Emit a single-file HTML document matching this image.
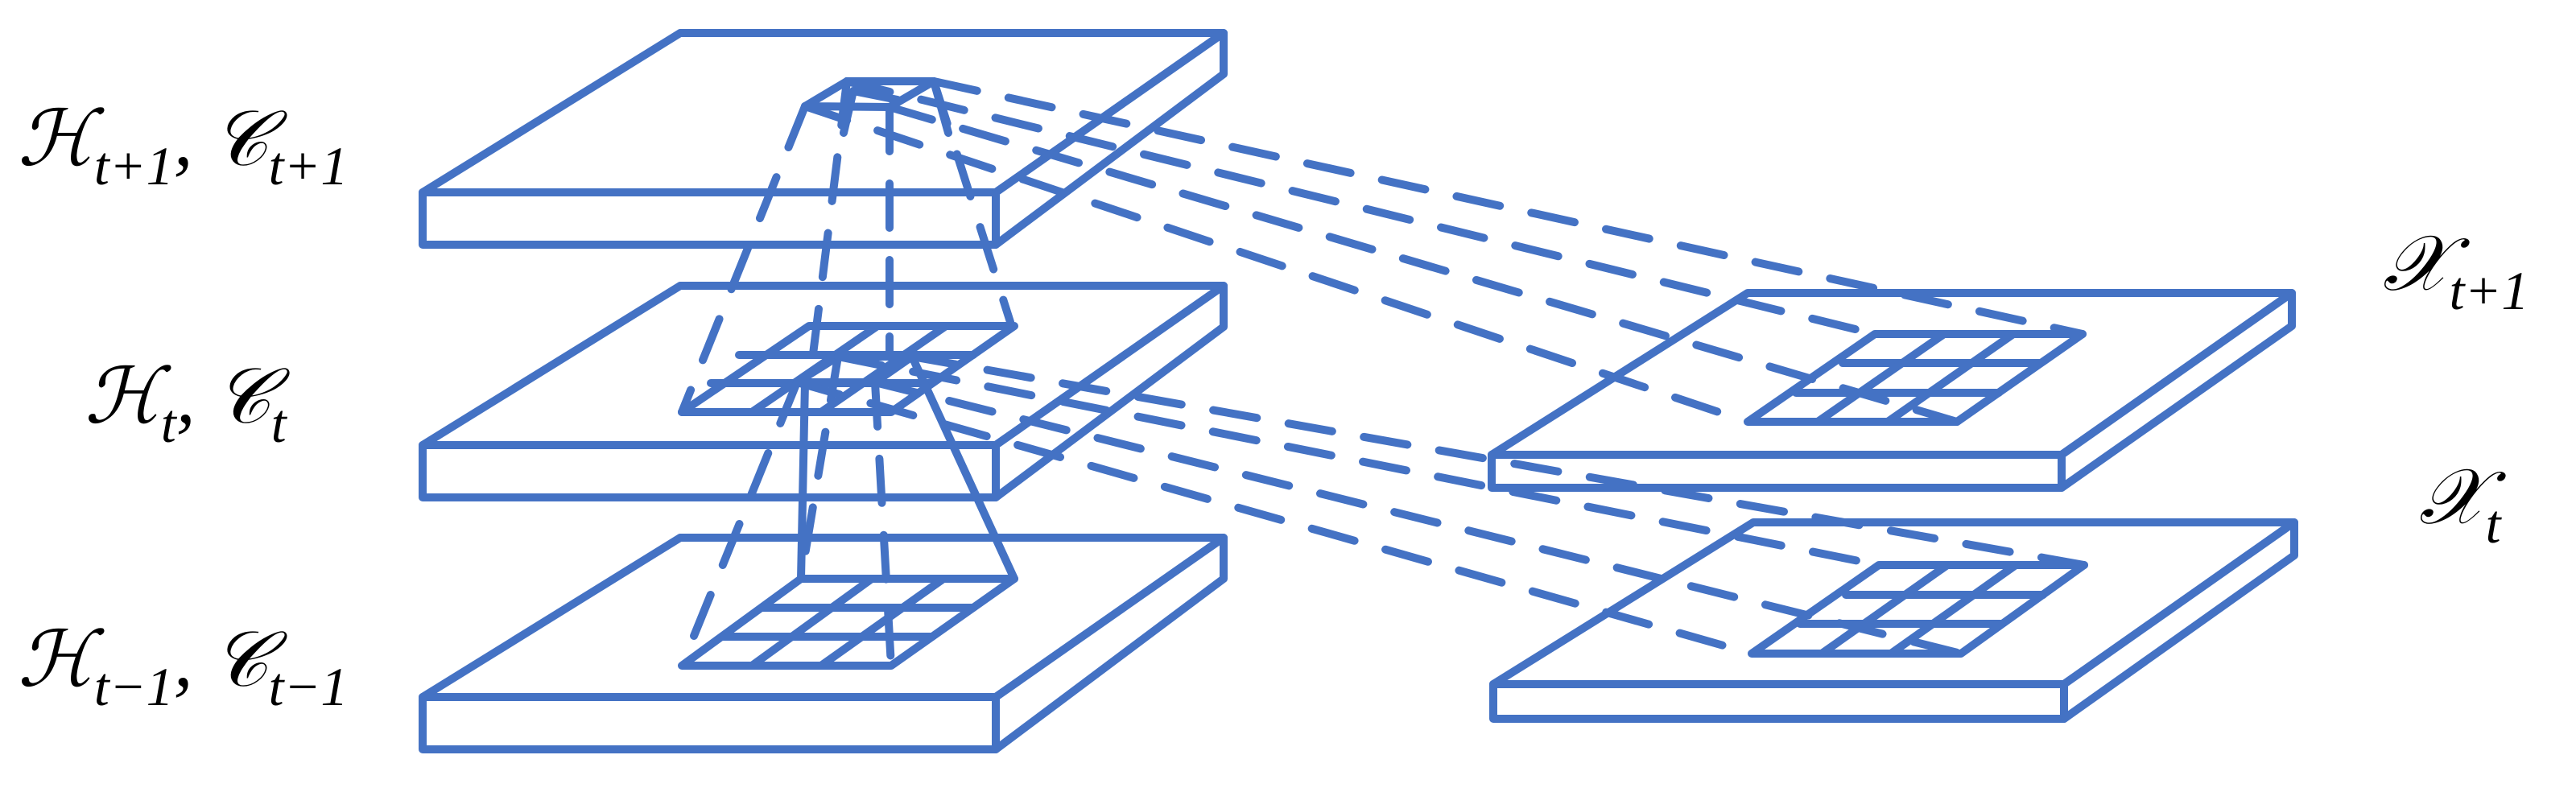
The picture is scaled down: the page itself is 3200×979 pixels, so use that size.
<!DOCTYPE html>
<html><head><style>
html,body{margin:0;padding:0;background:#fff;}
svg{display:block}
text{font-family:"Liberation Serif","DejaVu Serif",serif;font-style:italic;fill:#000}
</style></head><body>
<svg width="3200" height="979" viewBox="0 0 3200 979" xmlns="http://www.w3.org/2000/svg">
<g fill="none" stroke="#4472C4" stroke-width="10" stroke-linejoin="round" stroke-linecap="round">
<polygon points="845,41 1520,41 1237,239 525,239" fill="#fff"/>
<polygon points="525,239 1237,239 1237,304 525,304" fill="#fff"/>
<polygon points="1237,239 1520,41 1520,92 1237,304" fill="#fff"/>
<g transform="translate(0,314)">
<polygon points="845,41 1520,41 1237,239 525,239" fill="#fff"/>
<polygon points="525,239 1237,239 1237,304 525,304" fill="#fff"/>
<polygon points="1237,239 1520,41 1520,92 1237,304" fill="#fff"/>
</g>
<g transform="translate(0,627)">
<polygon points="845,41 1520,41 1237,239 525,239" fill="#fff"/>
<polygon points="525,239 1237,239 1237,304 525,304" fill="#fff"/>
<polygon points="1237,239 1520,41 1520,92 1237,304" fill="#fff"/>
</g>
<polygon points="2171,364 2847,364 2561,565 1853,565" fill="#fff"/>
<polygon points="1853,565 2561,565 2561,606 1853,606" fill="#fff"/>
<polygon points="2561,565 2847,364 2847,405 2561,606" fill="#fff"/>
<polygon points="2178,649 2850,649 2564,850 1855,850" fill="#fff"/>
<polygon points="1855,850 2564,850 2564,893 1855,893" fill="#fff"/>
<polygon points="2564,850 2850,649 2850,690 2564,893" fill="#fff"/>
<polygon points="1005,405 1260,405 1107,512 847,512"/>
<line x1="918" y1="441" x2="1209" y2="441"/><line x1="883" y1="476" x2="1158" y2="476"/>
<line x1="1090" y1="405" x2="934" y2="512"/><line x1="1175" y1="405" x2="1020" y2="512"/>
<polygon points="995,719 1260,719 1107,827 847,827"/>
<line x1="946" y1="755" x2="1209" y2="755"/><line x1="897" y1="791" x2="1158" y2="791"/>
<line x1="1083" y1="719" x2="934" y2="827"/><line x1="1172" y1="719" x2="1020" y2="827"/>
<polygon points="2329,415 2587,415 2431,524 2171,524"/>
<line x1="2289" y1="451" x2="2535" y2="451"/><line x1="2231" y1="488" x2="2483" y2="488"/>
<line x1="2415" y1="415" x2="2258" y2="524"/><line x1="2501" y1="415" x2="2345" y2="524"/>
<polygon points="2334,702 2589,702 2436,812 2176,812"/>
<line x1="2293" y1="739" x2="2538" y2="739"/><line x1="2236" y1="775" x2="2487" y2="775"/>
<line x1="2419" y1="702" x2="2263" y2="812"/><line x1="2504" y1="702" x2="2349" y2="812"/>
<polygon points="1052,101 1160,101 1105,133 1000,132"/>
<line x1="1060" y1="113" x2="1115" y2="124"/>
<line x1="1060" y1="113" x2="1048" y2="165"/>
<line x1="1160" y1="101" x2="1178" y2="165"/>
<polygon points="1041,443 1133,443 1087,475 990,475"/>
<line x1="1133" y1="443" x2="1260" y2="719"/>
<line x1="1000" y1="475" x2="995" y2="719"/>
<g stroke-dasharray="55,40">
<line x1="1000" y1="132" x2="847" y2="512"/>
<line x1="1105" y1="133" x2="1105" y2="440"/>
<line x1="1160" y1="101" x2="1255" y2="400"/>
<line x1="1052" y1="101" x2="1010" y2="440"/>
<line x1="990" y1="475" x2="847" y2="827"/>
<line x1="1087" y1="475" x2="1107" y2="827"/>
<line x1="1041" y1="443" x2="995" y2="719"/>
<line x1="1160" y1="101" x2="2587" y2="415"/>
<line x1="1105" y1="133" x2="2431" y2="524"/>
<line x1="1052" y1="101" x2="2329" y2="415"/>
<line x1="1000" y1="132" x2="2171" y2="524"/>
<line x1="1133" y1="443" x2="2589" y2="702"/>
<line x1="1087" y1="475" x2="2436" y2="812"/>
<line x1="1041" y1="443" x2="2334" y2="702"/>
<line x1="990" y1="475" x2="2176" y2="812"/>
</g>
</g>
<g font-size="96">
<text x="22" y="205">ℋ<tspan font-size="68" dy="24">t+1</tspan><tspan dy="-24">, 𝒞</tspan><tspan font-size="68" dy="24">t+1</tspan></text>
<text x="105" y="525">ℋ<tspan font-size="68" dy="24">t</tspan><tspan dy="-24">, 𝒞</tspan><tspan font-size="68" dy="24">t</tspan></text>
<text x="22" y="852">ℋ<tspan font-size="68" dy="24">t−1</tspan><tspan dy="-24">, 𝒞</tspan><tspan font-size="68" dy="24">t−1</tspan></text>
<text x="2960" y="360">𝒳<tspan font-size="68" dy="24">t+1</tspan></text>
<text x="3005" y="650">𝒳<tspan font-size="68" dy="24">t</tspan></text>
</g>
</svg>
</body></html>
